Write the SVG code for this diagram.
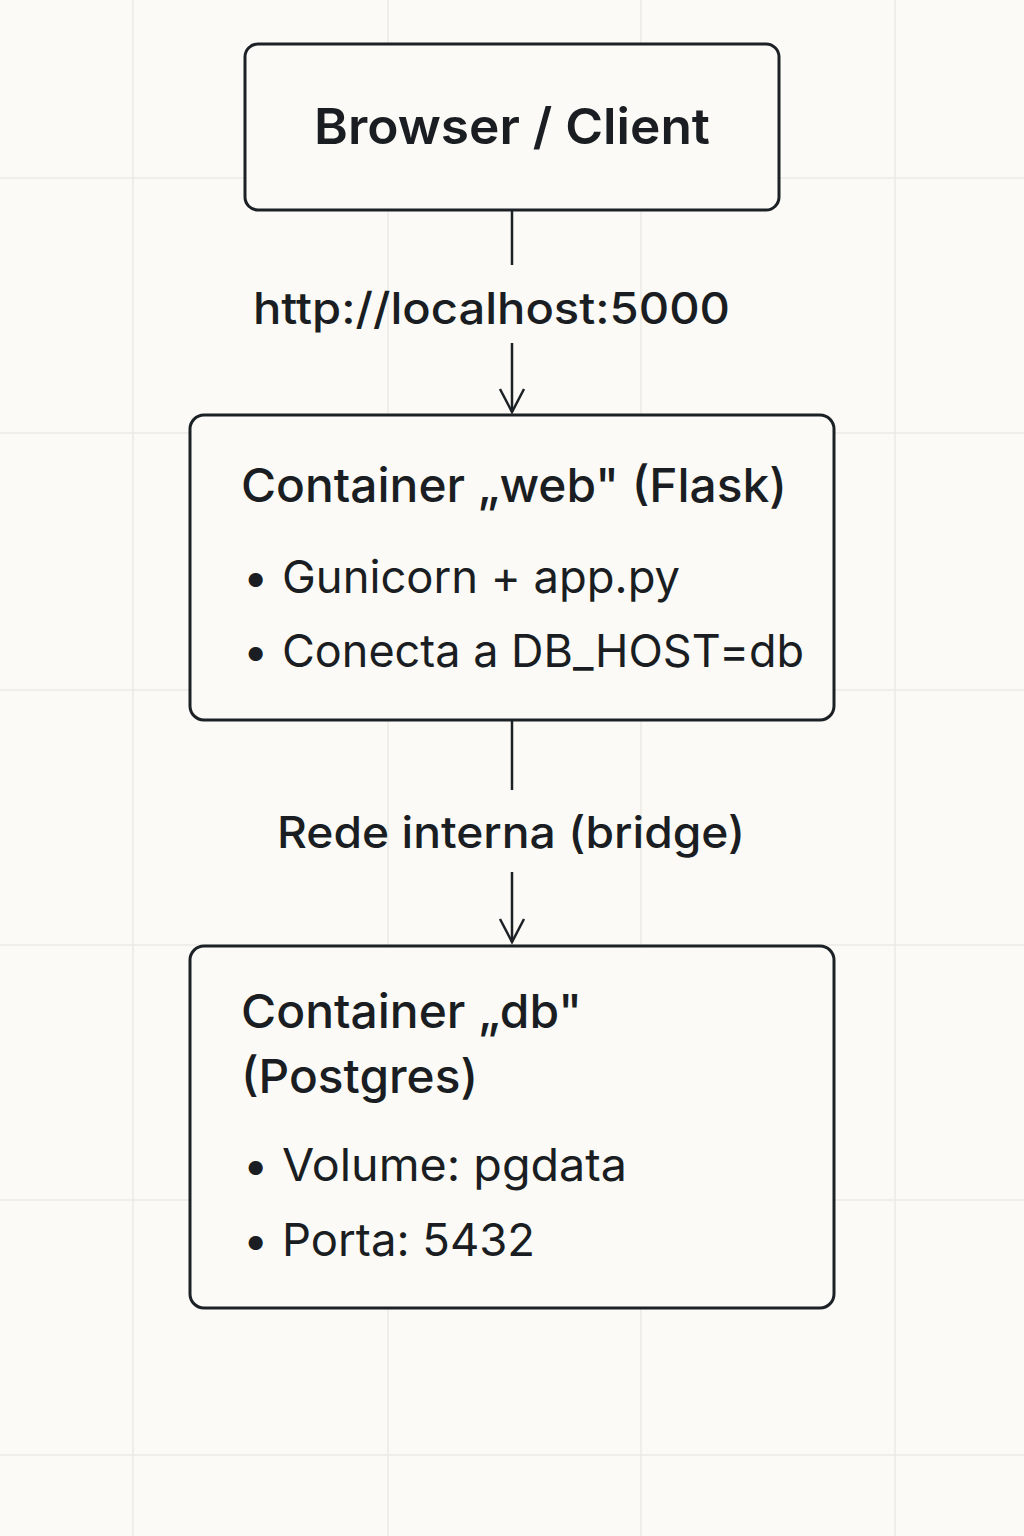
<svg xmlns="http://www.w3.org/2000/svg" width="1024" height="1536" viewBox="0 0 1024 1536">
<defs>
<style>
.bg{fill:#fbfaf6}
.grid line{stroke:#eceae4;stroke-width:1.5}
.box{fill:#fbfaf6;stroke:#1c2126;stroke-width:3}
.edge{stroke:#1c2126;stroke-width:2.5;fill:none}
text{font-family:Inter,"Liberation Sans",sans-serif;fill:#1a1e22}
.t1{font-size:50px;font-weight:600}
.t2{font-size:47px;font-weight:500}
.lbl{font-size:44px;font-weight:500}
.b{font-size:45px;font-weight:400}
</style>
<marker id="arr" markerWidth="30" markerHeight="30" viewBox="0 0 30 30" refX="26" refY="15" orient="auto" markerUnits="userSpaceOnUse">
<path d="M3,3 L26,15 L3,27" fill="none" stroke="#1c2126" stroke-width="2.5"/>
</marker>
</defs>
<rect class="bg" x="0" y="0" width="1024" height="1536"/>
<g class="grid">
<line x1="133" y1="0" x2="133" y2="1536"/>
<line x1="388" y1="0" x2="388" y2="1536"/>
<line x1="641" y1="0" x2="641" y2="1536"/>
<line x1="895" y1="0" x2="895" y2="1536"/>
<line x1="0" y1="178" x2="1024" y2="178"/>
<line x1="0" y1="433" x2="1024" y2="433"/>
<line x1="0" y1="690" x2="1024" y2="690"/>
<line x1="0" y1="945" x2="1024" y2="945"/>
<line x1="0" y1="1200" x2="1024" y2="1200"/>
<line x1="0" y1="1455" x2="1024" y2="1455"/>
</g>
<g id="connectors">
<line class="edge" x1="512" y1="210" x2="512" y2="265"/>
<line class="edge" x1="512" y1="343" x2="512" y2="412" marker-end="url(#arr)"/>
<text class="lbl" x="253" y="324" textLength="477" lengthAdjust="spacingAndGlyphs">http://localhost:5000</text>
<line class="edge" x1="512" y1="720" x2="512" y2="790"/>
<line class="edge" x1="512" y1="872" x2="512" y2="942" marker-end="url(#arr)"/>
<text class="lbl" x="277" y="848" textLength="468" lengthAdjust="spacingAndGlyphs">Rede interna (bridge)</text>
</g>
<g id="browser">
<rect class="box" x="245" y="44" width="534" height="166" rx="13"/>
<text class="t1" x="314" y="144" textLength="396" lengthAdjust="spacingAndGlyphs">Browser / Client</text>
</g>
<g id="web">
<rect class="box" x="190" y="415" width="644" height="305" rx="14"/>
<text class="t2" x="241" y="502" textLength="546" lengthAdjust="spacingAndGlyphs">Container „web" (Flask)</text>
<text class="b" x="243" y="593">•</text>
<text class="b" x="282" y="593" textLength="398" lengthAdjust="spacingAndGlyphs">Gunicorn + app.py</text>
<text class="b" x="243" y="667">•</text>
<text class="b" x="282" y="667" textLength="522" lengthAdjust="spacingAndGlyphs">Conecta a DB_HOST=db</text>
</g>
<g id="db">
<rect class="box" x="190" y="946" width="644" height="362" rx="14"/>
<text class="t2" x="241" y="1028" textLength="341" lengthAdjust="spacingAndGlyphs">Container „db"</text>
<text class="t2" x="241" y="1093" textLength="237" lengthAdjust="spacingAndGlyphs">(Postgres)</text>
<text class="b" x="243" y="1181">•</text>
<text class="b" x="282" y="1181" textLength="345" lengthAdjust="spacingAndGlyphs">Volume: pgdata</text>
<text class="b" x="243" y="1256">•</text>
<text class="b" x="282" y="1256" textLength="253" lengthAdjust="spacingAndGlyphs">Porta: 5432</text>
</g>
</svg>
